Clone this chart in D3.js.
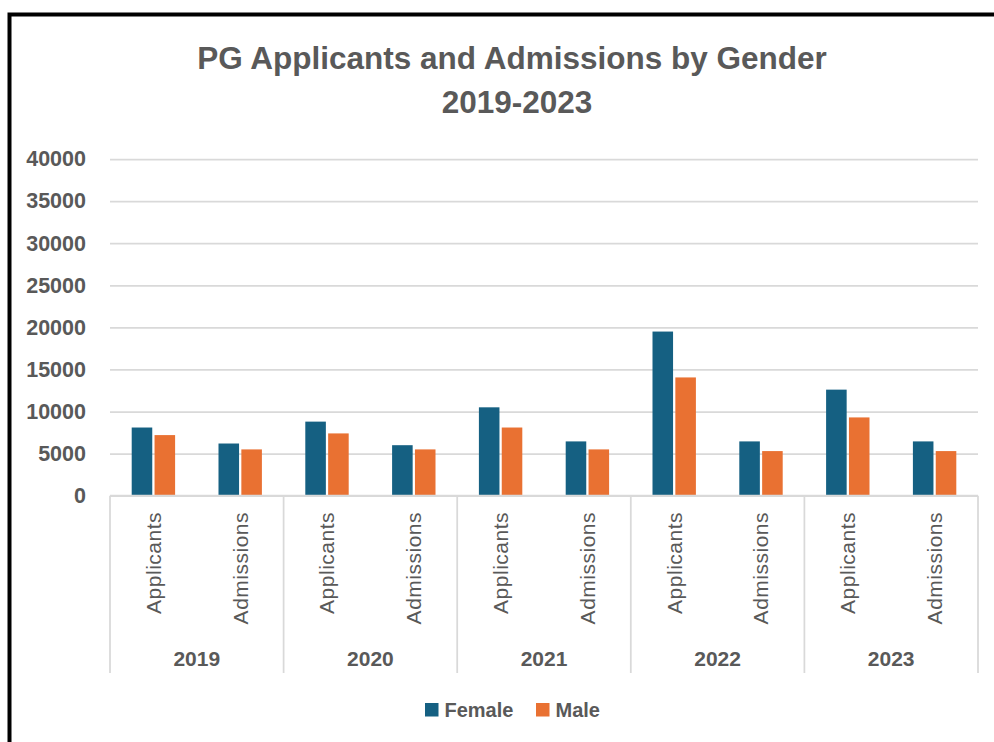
<!DOCTYPE html>
<html lang="en">
<head>
  <title>PG Applicants and Admissions by Gender</title>
  <script type="text/javascript" src="https://cdnjs.cloudflare.com/ajax/libs/d3/7.8.5/d3.min.js"></script>
  <style>
    body {
      margin: 0px;
      background: #ffffff;
    }
    svg {
      display: block;
      font-family: "Liberation Sans", Arial, sans-serif;
    }
  </style>
</head>
<body>
  <script type="text/javascript">
    // chart data
    var years = ["2019", "2020", "2021", "2022", "2023"];
    var stages = ["Applicants", "Admissions"];
    var series = ["Female", "Male"];
    var female = [8100, 6200, 8800, 6000, 10500, 6450, 19500, 6450, 12600, 6450];
    var male = [7200, 5500, 7400, 5500, 8100, 5500, 14050, 5300, 9300, 5300];
    var yTicks = [0, 5000, 10000, 15000, 20000, 25000, 30000, 35000, 40000];
    var colors = {"Female": "#156082", "Male": "#E97132"};
    var textColor = "#595959";
    var gridColor = "#d9d9d9";

    var width = 994;
    var height = 742;
    var plot = {left: 110, right: 978, top: 159, bottom: 495.7};

    // one row per year/stage category
    var rows = [];
    years.forEach(function (yr, i) {
      stages.forEach(function (st, j) {
        var k = i * stages.length + j;
        rows.push({key: yr + "|" + st, year: yr, stage: st, Female: female[k], Male: male[k]});
      });
    });

    var svg = d3.select("body").append("svg")
      .attr("width", width)
      .attr("height", height);

    svg.append("rect")
      .attr("width", width).attr("height", height)
      .attr("fill", "#ffffff");

    // outer black frame (runs off the right and bottom edges)
    svg.append("rect")
      .attr("x", 9.5).attr("y", 14.5)
      .attr("width", width + 20).attr("height", height + 20)
      .attr("fill", "none")
      .attr("stroke", "#000000")
      .attr("stroke-width", 4);

    // title
    var title = svg.append("text")
      .attr("fill", textColor)
      .attr("font-weight", "bold")
      .attr("font-size", "31.5px")
      .attr("text-anchor", "middle");
    title.append("tspan").attr("x", 512).attr("y", 69).text("PG Applicants and Admissions by Gender");
    title.append("tspan").attr("x", 517).attr("y", 112.7).text("2019-2023");

    var x0 = d3.scaleBand()
      .domain(rows.map(function (d) { return d.key; }))
      .range([plot.left, plot.right])
      .paddingInner(0.5)
      .paddingOuter(0.25);

    var x1 = d3.scaleBand()
      .domain(series)
      .range([0, x0.bandwidth()])
      .paddingInner(0.1);

    var y = d3.scaleLinear()
      .domain([0, 40000])
      .range([plot.bottom, plot.top]);

    // gridlines + y labels
    var yAxis = d3.axisLeft(y)
      .tickValues(yTicks)
      .tickSize(-(plot.right - plot.left))
      .tickPadding(24)
      .tickFormat(d3.format("d"));

    var gy = svg.append("g")
      .attr("transform", "translate(" + plot.left + ",0)")
      .call(yAxis);
    gy.select(".domain").remove();
    gy.selectAll(".tick line")
      .attr("stroke", gridColor)
      .attr("stroke-width", 1.75);
    gy.selectAll(".tick text")
      .attr("fill", textColor)
      .attr("font-size", "21.5px")
      .attr("font-weight", "bold")
      .attr("font-family", "'Liberation Sans', Arial, sans-serif");

    // bars
    var groups = svg.append("g").selectAll("g")
      .data(rows)
      .enter().append("g")
      .attr("transform", function (d) { return "translate(" + x0(d.key) + ",0)"; });

    groups.selectAll("rect")
      .data(function (d) { return series.map(function (s) { return {series: s, value: d[s]}; }); })
      .enter().append("rect")
      .attr("x", function (d) { return x1(d.series); })
      .attr("width", x1.bandwidth())
      .attr("y", function (d) { return y(d.value); })
      .attr("height", function (d) { return y(0) - y(d.value); })
      .attr("fill", function (d) { return colors[d.series]; });

    // category axis: baseline and year separators
    var sepBottom = 673;
    var step = x0.step();
    var yearEdges = d3.range(years.length + 1).map(function (i) {
      return plot.left + i * stages.length * step;
    });

    svg.append("line")
      .attr("x1", plot.left).attr("x2", plot.right)
      .attr("y1", plot.bottom).attr("y2", plot.bottom)
      .attr("stroke", gridColor).attr("stroke-width", 1.75);

    svg.append("g").selectAll("line")
      .data(yearEdges)
      .enter().append("line")
      .attr("x1", function (d) { return d; })
      .attr("x2", function (d) { return d; })
      .attr("y1", plot.bottom)
      .attr("y2", sepBottom)
      .attr("stroke", gridColor)
      .attr("stroke-width", 1.75);

    // rotated stage labels
    svg.append("g").selectAll("text")
      .data(rows)
      .enter().append("text")
      .attr("transform", function (d) {
        return "translate(" + (x0(d.key) + x0.bandwidth() / 2) + ",512) rotate(-90)";
      })
      .attr("dy", "0.35em")
      .attr("text-anchor", "end")
      .attr("fill", textColor)
      .attr("font-size", "21px")
      .attr("letter-spacing", "0.5px")
      .text(function (d) { return d.stage; });

    // year labels
    svg.append("g").selectAll("text")
      .data(years)
      .enter().append("text")
      .attr("x", function (d, i) { return (yearEdges[i] + yearEdges[i + 1]) / 2; })
      .attr("y", 665.7)
      .attr("text-anchor", "middle")
      .attr("fill", textColor)
      .attr("font-size", "21px")
      .attr("font-weight", "bold")
      .text(function (d) { return d; });

    // legend
    var legendPos = [425, 536];
    var legend = svg.append("g").selectAll("g")
      .data(series)
      .enter().append("g")
      .attr("transform", function (d, i) { return "translate(" + legendPos[i] + ",703)"; });

    legend.append("rect")
      .attr("width", 13.5).attr("height", 13.5)
      .attr("fill", function (d) { return colors[d]; });

    legend.append("text")
      .attr("x", 19.5)
      .attr("y", 14.3)
      .attr("fill", textColor)
      .attr("font-size", "20px")
      .attr("font-weight", "bold")
      .text(function (d) { return d; });
  </script>
</body>
</html>
